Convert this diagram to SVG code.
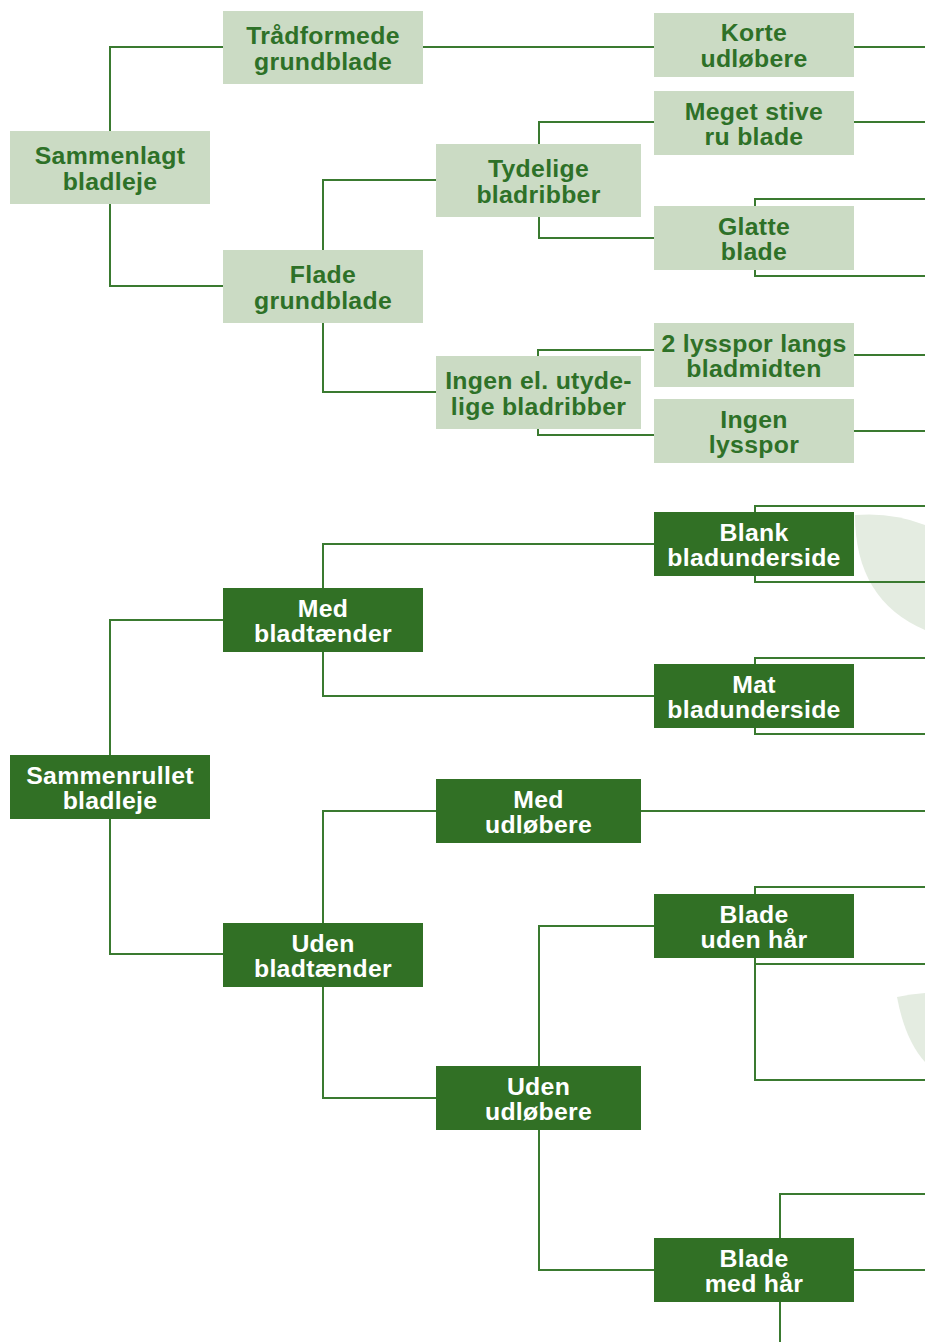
<svg xmlns="http://www.w3.org/2000/svg" width="925" height="1342" viewBox="0 0 925 1342">
<style>
.c{fill:none;stroke:#3a7a30;stroke-width:2}
.l rect{fill:#cbdbc4}
.d rect{fill:#317025}
text{font-family:"Liberation Sans",Arial,sans-serif;font-weight:bold;font-size:24.8px;letter-spacing:0.3px;text-anchor:middle}
.l text{fill:#2e7128}
.d text{fill:#ffffff}
.bg{fill:#e4ece1}
</style>
<rect width="925" height="1342" fill="#ffffff"/>
<g id="background">
<path class="bg" d="M855 515 Q893 512 925 525 L925 630 Q855 600 855 515 Z"/>
<path class="bg" d="M897 997 Q911 994 925 993 L925 1062 Q905 1040 897 997 Z"/>
</g>
<g id="connectors">
<path class="c" d="M223 47 H110 V286 H223"/>
<path class="c" d="M423 47 H654"/>
<path class="c" d="M854 47 H925"/>
<path class="c" d="M436 180 H323 V392 H436"/>
<path class="c" d="M654 122 H539 V238 H654"/>
<path class="c" d="M854 122 H925"/>
<path class="c" d="M925 199 H755 V276 H925"/>
<path class="c" d="M654 350 H538 V435 H654"/>
<path class="c" d="M854 355 H925"/>
<path class="c" d="M854 431 H925"/>
<path class="c" d="M223 620 H110 V954 H223"/>
<path class="c" d="M654 544 H323 V696 H654"/>
<path class="c" d="M925 506 H755 V582 H925"/>
<path class="c" d="M925 658 H755 V734 H925"/>
<path class="c" d="M436 811 H323 V1098 H436"/>
<path class="c" d="M641 811 H925"/>
<path class="c" d="M654 926 H539 V1270 H654"/>
<path class="c" d="M925 887 H755 V1080 H925"/>
<path class="c" d="M755 964 H925"/>
<path class="c" d="M925 1194 H780 V1342"/>
<path class="c" d="M854 1270 H925"/>
</g>
<g id="n-sammenlagt" class="l"><rect x="10" y="131" width="200" height="73"/><text x="110" y="163.5">Sammenlagt</text><text x="110" y="189.5">bladleje</text></g>
<g id="n-traadformede" class="l"><rect x="223" y="11" width="200" height="73"/><text x="323" y="44">Trådformede</text><text x="323" y="70">grundblade</text></g>
<g id="n-flade" class="l"><rect x="223" y="250" width="200" height="73"/><text x="323" y="283">Flade</text><text x="323" y="309">grundblade</text></g>
<g id="n-tydelige" class="l"><rect x="436" y="144" width="205" height="73"/><text x="538.5" y="177">Tydelige</text><text x="538.5" y="203">bladribber</text></g>
<g id="n-ingen-el" class="l"><rect x="436" y="356" width="205" height="73"/><text x="538.5" y="389">Ingen el. utyde-</text><text x="538.5" y="415">lige bladribber</text></g>
<g id="n-korte" class="l"><rect x="654" y="13" width="200" height="64"/><text x="754" y="41">Korte</text><text x="754" y="67">udløbere</text></g>
<g id="n-meget-stive" class="l"><rect x="654" y="91" width="200" height="64"/><text x="754" y="119.5">Meget stive</text><text x="754" y="145">ru blade</text></g>
<g id="n-glatte" class="l"><rect x="654" y="206" width="200" height="64"/><text x="754" y="234.5">Glatte</text><text x="754" y="260">blade</text></g>
<g id="n-2-lysspor" class="l"><rect x="654" y="323" width="200" height="64"/><text x="754" y="351.5">2 lysspor langs</text><text x="754" y="377">bladmidten</text></g>
<g id="n-ingen-lysspor" class="l"><rect x="654" y="399" width="200" height="64"/><text x="754" y="427.5">Ingen</text><text x="754" y="453">lysspor</text></g>
<g id="n-sammenrullet" class="d"><rect x="10" y="755" width="200" height="64"/><text x="110" y="783.5">Sammenrullet</text><text x="110" y="809">bladleje</text></g>
<g id="n-med-bladtaender" class="d"><rect x="223" y="588" width="200" height="64"/><text x="323" y="616.5">Med</text><text x="323" y="642">bladtænder</text></g>
<g id="n-uden-bladtaender" class="d"><rect x="223" y="923" width="200" height="64"/><text x="323" y="951.5">Uden</text><text x="323" y="977">bladtænder</text></g>
<g id="n-med-udloebere" class="d"><rect x="436" y="779" width="205" height="64"/><text x="538.5" y="807.5">Med</text><text x="538.5" y="833">udløbere</text></g>
<g id="n-uden-udloebere" class="d"><rect x="436" y="1066" width="205" height="64"/><text x="538.5" y="1094.5">Uden</text><text x="538.5" y="1120">udløbere</text></g>
<g id="n-blank" class="d"><rect x="654" y="512" width="200" height="64"/><text x="754" y="540.5">Blank</text><text x="754" y="566">bladunderside</text></g>
<g id="n-mat" class="d"><rect x="654" y="664" width="200" height="64"/><text x="754" y="692.5">Mat</text><text x="754" y="718">bladunderside</text></g>
<g id="n-blade-uden-haar" class="d"><rect x="654" y="894" width="200" height="64"/><text x="754" y="922.5">Blade</text><text x="754" y="948">uden hår</text></g>
<g id="n-blade-med-haar" class="d"><rect x="654" y="1238" width="200" height="64"/><text x="754" y="1266.5">Blade</text><text x="754" y="1292">med hår</text></g>
</svg>
